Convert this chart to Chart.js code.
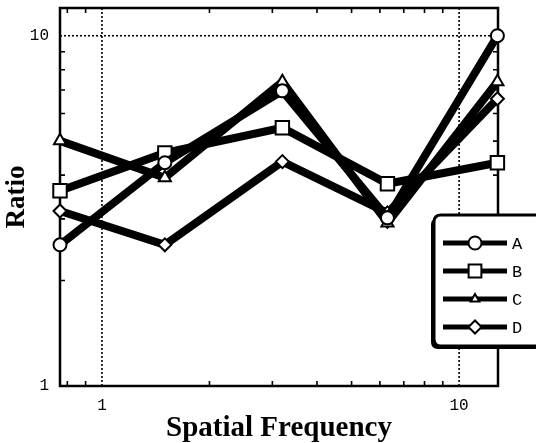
<!DOCTYPE html>
<html><head><meta charset="utf-8">
<script src="https://cdn.jsdelivr.net/npm/chart.js@4.4.0/dist/chart.umd.min.js"></script>
<style>html,body{margin:0;padding:0;background:#fff;overflow:hidden}</style>
</head><body>
<canvas id="c" width="536" height="443"></canvas>
<script>
// ---- data ----
const frequencies = [0.763, 1.5, 3.2, 6.3, 12.8];
const seriesNames = ['A', 'B', 'C', 'D'];
const ratioA = [2.53, 4.34, 6.96, 3.02, 10.0];
const ratioB = [3.61, 4.63, 5.46, 3.78, 4.34];
const ratioC = [5.01, 3.93, 7.39, 2.92, 7.39];
const ratioD = [3.16, 2.53, 4.37, 3.12, 6.61];
const xTickLabels = [1, 10];
const yTickLabels = [1, 10];
const xMinorTicks = [0.8, 0.9, 2, 3, 4, 5, 6, 7, 8, 9];
const yMinorTicks = [2, 3, 4, 5, 6, 7, 8, 9];
const xGridLines = [1, 10];
const yGridLines = [10];

const markerStyles = [
  {pointStyle: 'circle', radius: 6.5},
  {pointStyle: 'rect', radius: 9.5},
  {pointStyle: 'triangle', radius: 7},
  {pointStyle: 'rectRot', radius: 6.5}
];
const seriesValues = [ratioA, ratioB, ratioC, ratioD];

const datasets = seriesNames.map((name, i) => ({
  label: name,
  data: frequencies.map((f, j) => ({x: f, y: seriesValues[i][j]})),
  borderColor: '#000',
  backgroundColor: '#fff',
  borderWidth: 8,
  borderJoinStyle: 'miter',
  borderCapStyle: 'butt',
  tension: 0,
  pointStyle: markerStyles[i].pointStyle,
  pointRadius: markerStyles[i].radius,
  pointBorderWidth: 2,
  pointBorderColor: '#000',
  pointBackgroundColor: '#fff',
  clip: false
}));

function rrect(ctx, x, y, w, h, r) {
  ctx.beginPath();
  ctx.moveTo(x + r, y);
  ctx.lineTo(x + w - r, y);
  ctx.quadraticCurveTo(x + w, y, x + w, y + r);
  ctx.lineTo(x + w, y + h - r);
  ctx.quadraticCurveTo(x + w, y + h, x + w - r, y + h);
  ctx.lineTo(x + r, y + h);
  ctx.quadraticCurveTo(x, y + h, x, y + h - r);
  ctx.lineTo(x, y + r);
  ctx.quadraticCurveTo(x, y, x + r, y);
  ctx.closePath();
}

const framePlugin = {
  id: 'frame',
  beforeDatasetsDraw(chart) {
    const {ctx, chartArea: a, scales: {x, y}} = chart;
    ctx.save();
    ctx.strokeStyle = '#000';
    ctx.lineWidth = 1.6;
    ctx.setLineDash([2, 2]);
    xGridLines.forEach(v => {
      const px = x.getPixelForValue(v);
      ctx.beginPath(); ctx.moveTo(px, a.top); ctx.lineTo(px, a.bottom); ctx.stroke();
    });
    yGridLines.forEach(v => {
      const py = y.getPixelForValue(v);
      ctx.beginPath(); ctx.moveTo(a.left, py); ctx.lineTo(a.right, py); ctx.stroke();
    });
    ctx.setLineDash([]);
    ctx.lineWidth = 1.6;
    xMinorTicks.forEach(v => {
      const px = x.getPixelForValue(v);
      ctx.beginPath();
      ctx.moveTo(px, a.bottom); ctx.lineTo(px, a.bottom - 5);
      ctx.moveTo(px, a.top); ctx.lineTo(px, a.top + 5);
      ctx.stroke();
    });
    yMinorTicks.forEach(v => {
      const py = y.getPixelForValue(v);
      ctx.beginPath();
      ctx.moveTo(a.left, py); ctx.lineTo(a.left + 5, py);
      ctx.moveTo(a.right, py); ctx.lineTo(a.right - 5, py);
      ctx.stroke();
    });
    ctx.lineWidth = 2.5;
    ctx.strokeRect(a.left, a.top, a.right - a.left, a.bottom - a.top);
    ctx.restore();
  },
  afterDraw(chart) {
    const {ctx} = chart;
    const bx = 434, by = 215, bw = 110, bh = 131;
    ctx.save();
    ctx.fillStyle = '#000';
    rrect(ctx, bx - 3, by + 3, bw, bh, 7);
    ctx.fill();
    ctx.fillStyle = '#fff';
    rrect(ctx, bx, by, bw, bh, 7);
    ctx.fill();
    ctx.strokeStyle = '#000';
    ctx.lineWidth = 3;
    ctx.stroke();
    chart.data.datasets.forEach((ds, i) => {
      const yy = 243 + 28 * i;
      ctx.strokeStyle = '#000';
      ctx.lineWidth = 5;
      ctx.beginPath(); ctx.moveTo(443, yy); ctx.lineTo(507, yy); ctx.stroke();
      ctx.fillStyle = '#fff';
      ctx.strokeStyle = '#000';
      ctx.lineWidth = 2;
      Chart.helpers.drawPoint(ctx, {
        pointStyle: ds.pointStyle,
        radius: i === 2 ? 5 : ds.pointRadius * (i === 1 ? 0.95 : 1),
        rotation: 0,
        borderWidth: 2
      }, 475, yy);
      ctx.fillStyle = '#000';
      ctx.font = '17px "Liberation Mono", monospace';
      ctx.textBaseline = 'middle';
      ctx.textAlign = 'left';
      ctx.fillText(ds.label, 512, yy + 1);
    });
    ctx.restore();
  }
};

new Chart(document.getElementById('c'), {
  type: 'line',
  data: {datasets},
  plugins: [framePlugin],
  options: {
    responsive: false,
    animation: false,
    devicePixelRatio: 1,
    layout: {autoPadding: false, padding: {top: 8, right: 38, left: 0, bottom: 0}},
    plugins: {legend: {display: false}, tooltip: {enabled: false}},
    scales: {
      x: {
        type: 'logarithmic',
        min: 0.763,
        max: 12.85,
        afterBuildTicks: s => { s.ticks = xTickLabels.map(v => ({value: v})); },
        afterFit: s => { s.height = 57; s.paddingLeft = 0; s.paddingRight = 0; },
        grid: {display: false, drawTicks: false},
        border: {display: false},
        ticks: {
          autoSkip: false, maxRotation: 0, padding: 10,
          color: '#000',
          font: {family: '"Liberation Mono", monospace', size: 16},
          callback: v => String(v)
        },
        title: {
          display: true, text: 'Spatial Frequency', color: '#000',
          font: {family: '"Liberation Serif", serif', size: 29, weight: 'bold', lineHeight: 1},
          padding: {top: 0, bottom: 0}
        }
      },
      y: {
        type: 'logarithmic',
        min: 1,
        max: 12.0,
        afterBuildTicks: s => { s.ticks = yTickLabels.map(v => ({value: v})); },
        afterFit: s => { s.width = 60; s.paddingTop = 0; s.paddingBottom = 0; },
        grid: {display: false, drawTicks: false},
        border: {display: false},
        ticks: {
          autoSkip: false, padding: 11,
          color: '#000',
          font: {family: '"Liberation Mono", monospace', size: 16},
          callback: v => String(v)
        },
        title: {
          display: true, text: 'Ratio', color: '#000',
          font: {family: '"Liberation Serif", serif', size: 27, weight: 'bold', lineHeight: 1},
          padding: {top: 4, bottom: 0}
        }
      }
    }
  }
});
</script>
</body></html>
